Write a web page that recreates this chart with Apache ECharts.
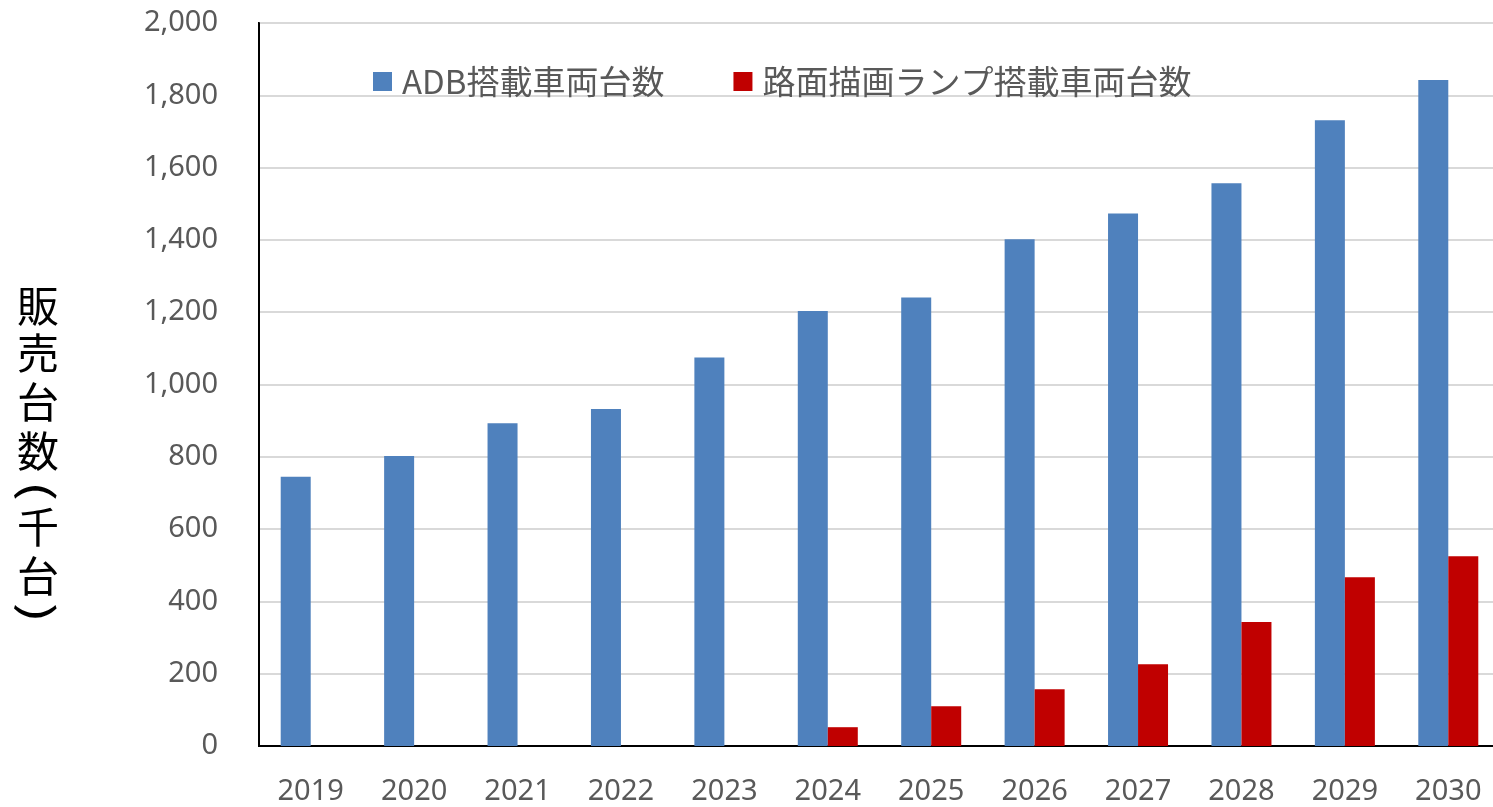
<!DOCTYPE html>
<html>
<head>
<meta charset="utf-8">
<script src="https://cdn.jsdelivr.net/npm/echarts@6/dist/echarts.min.js"></script>
<style>
html,body{margin:0;padding:0;background:#fff;overflow:hidden;}
#main{width:1500px;height:807px;}
</style>
</head>
<body>
<div id="main"></div>
<script>
const categories = ['2019','2020','2021','2022','2023','2024','2025','2026','2027','2028','2029','2030'];
const adbValues = [745, 802, 893, 932, 1075, 1203, 1241, 1402, 1473, 1557, 1731, 1842];
const lampValues = [null, null, null, null, null, 52, 110, 157, 226, 343, 467, 525];
const seriesNames = ['ADB搭載車両台数', '路面描画ランプ搭載車両台数'];
const yAxisName = ['販', '売', '台', '数', '(', '千', '台', ')'];

const chart = echarts.init(document.getElementById('main'));
const fontMain = '"Noto Sans", "Noto Sans CJK JP", sans-serif';
const fontCJK = '"Noto Sans CJK JP"';

// vertical (tategaki) axis title: one glyph per element, brackets turned upright
const nameTops = [306, 353, 402, 451, 491, 527, 576, 613];
const nameGraphics = yAxisName.map((c, i) => {
  const isBracket = (c === '(' || c === ')');
  return {
    type: 'text',
    x: 38, y: nameTops[i],
    rotation: isBracket ? -Math.PI / 2 : 0,
    scaleX: isBracket ? 1.5 : 1,
    style: {
      text: c, fill: '#000',
      fontSize: 42, fontFamily: fontCJK,
      align: 'center', verticalAlign: 'middle'
    }
  };
});

chart.setOption({
  animation: false,
  backgroundColor: '#ffffff',
  grid: {
    left: 259, top: 23, right: 0, bottom: 61,
    show: true, borderColor: '#000', borderWidth: 2, backgroundColor: 'transparent'
  },
  legend: {
    left: 368, top: 60,
    itemWidth: 19, itemHeight: 19, itemGap: 69,
    icon: 'rect',
    textStyle: { fontSize: 33, color: '#595959', fontFamily: fontCJK, padding: [0, 0, 0, 5] },
    data: seriesNames
  },
  xAxis: {
    type: 'category',
    data: categories,
    axisLine: { lineStyle: { color: '#000', width: 2 } },
    axisTick: { show: false },
    axisLabel: { fontSize: 29, color: '#595959', fontFamily: fontMain, margin: 31 }
  },
  yAxis: {
    type: 'value',
    min: 0, max: 2000, interval: 200,
    axisLine: { show: true, lineStyle: { color: '#000', width: 2 } },
    axisTick: { show: false },
    splitLine: { lineStyle: { color: '#d9d9d9', width: 2 } },
    axisLabel: {
      fontSize: 29, color: '#595959', fontFamily: fontMain, margin: 41,
      formatter: v => v.toLocaleString('en-US')
    }
  },
  graphic: nameGraphics,
  series: [
    {
      name: seriesNames[0], type: 'bar', data: adbValues,
      barWidth: 30, barGap: '0%',
      itemStyle: { color: '#4f81bd' }
    },
    {
      name: seriesNames[1], type: 'bar', data: lampValues,
      barWidth: 30,
      itemStyle: { color: '#c00000' }
    }
  ]
});
</script>
</body>
</html>
